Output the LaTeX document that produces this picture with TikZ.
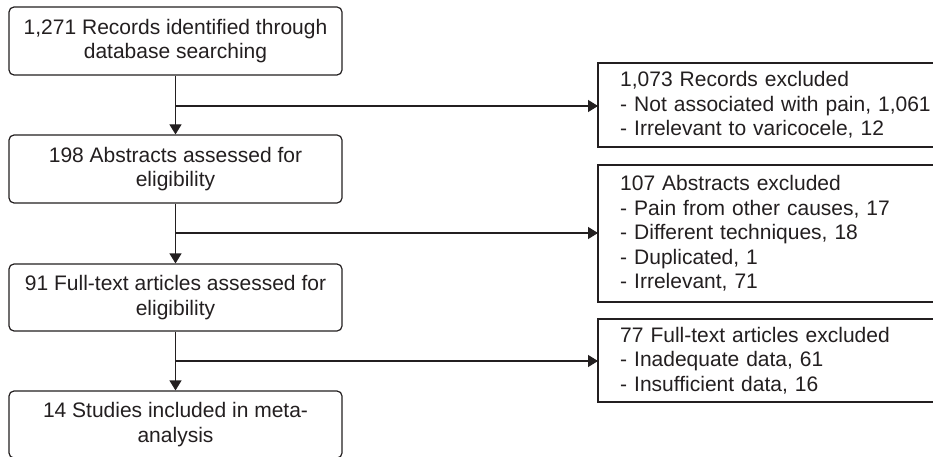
\documentclass[tikz,border=0pt]{standalone}
\usepackage{fontspec}
\setmainfont{Liberation Sans}
\usetikzlibrary{arrows.meta}
\definecolor{ink}{HTML}{231F20}
\begin{document}
\begin{tikzpicture}[x=1pt,y=-1pt,
  font=\fontsize{21}{24.5}\selectfont,
  lbox/.style={draw=ink, line width=1.2pt, rounded corners=5pt, minimum width=333pt,
    minimum height=68pt, align=center, inner sep=0pt, text=ink},
  rbox/.style={overlay, anchor=north west, align=left,
    text width=315pt, inner xsep=22pt, inner ysep=0pt, text=ink},
  rframe/.style={draw=ink, line width=1.2pt},
  flow/.style={draw=ink, line width=1.2pt, -{Triangle[length=10pt,width=12pt]}}]
\useasboundingbox (0,0) rectangle (933,457);
\clip (0,0) rectangle (933,457);
\fill[white] (0,0) rectangle (933,457);
% left column
\node[lbox] (b1) at (175.5,41) {1,271 Records identified through\\database searching};
\node[lbox] (b2) at (175.5,169) {198 Abstracts assessed for\\eligibility};
\node[lbox, minimum height=67pt] (b3) at (175.5,297.5) {91 Full-text articles assessed for\\eligibility};
\node[lbox, minimum height=67pt] (b4) at (175.5,424.5) {14 Studies included in meta-\\analysis};
% right column
\node[rbox, minimum height=84pt] (e1) at (598,63) {1,073 Records excluded\\- Not associated with pain, 1,061\\- Irrelevant to varicocele, 12};
\node[rbox, minimum height=137pt] (e2) at (598,165) {107 Abstracts excluded\\- Pain from other causes, 17\\- Different techniques, 18\\- Duplicated, 1\\- Irrelevant, 71};
\node[rbox, minimum height=83pt] (e3) at (598,319) {77 Full-text articles excluded\\- Inadequate data, 61\\- Insufficient data, 16};
\draw[rframe] (e1.north west) rectangle (940,147);
\draw[rframe] (e2.north west) rectangle (940,302);
\draw[rframe] (e3.north west) rectangle (940,402);
% connectors
\draw[flow] (b1) -- (b2);
\draw[flow] (b2) -- (b3);
\draw[flow] (b3) -- (b4);
\coordinate (j1) at (175.5,106);
\coordinate (j2) at (175.5,233);
\coordinate (j3) at (175.5,361);
\draw[flow] (j1) -- (j1 -| e1.west);
\draw[flow] (j2) -- (j2 -| e2.west);
\draw[flow] (j3) -- (j3 -| e3.west);
\end{tikzpicture}
\end{document}
